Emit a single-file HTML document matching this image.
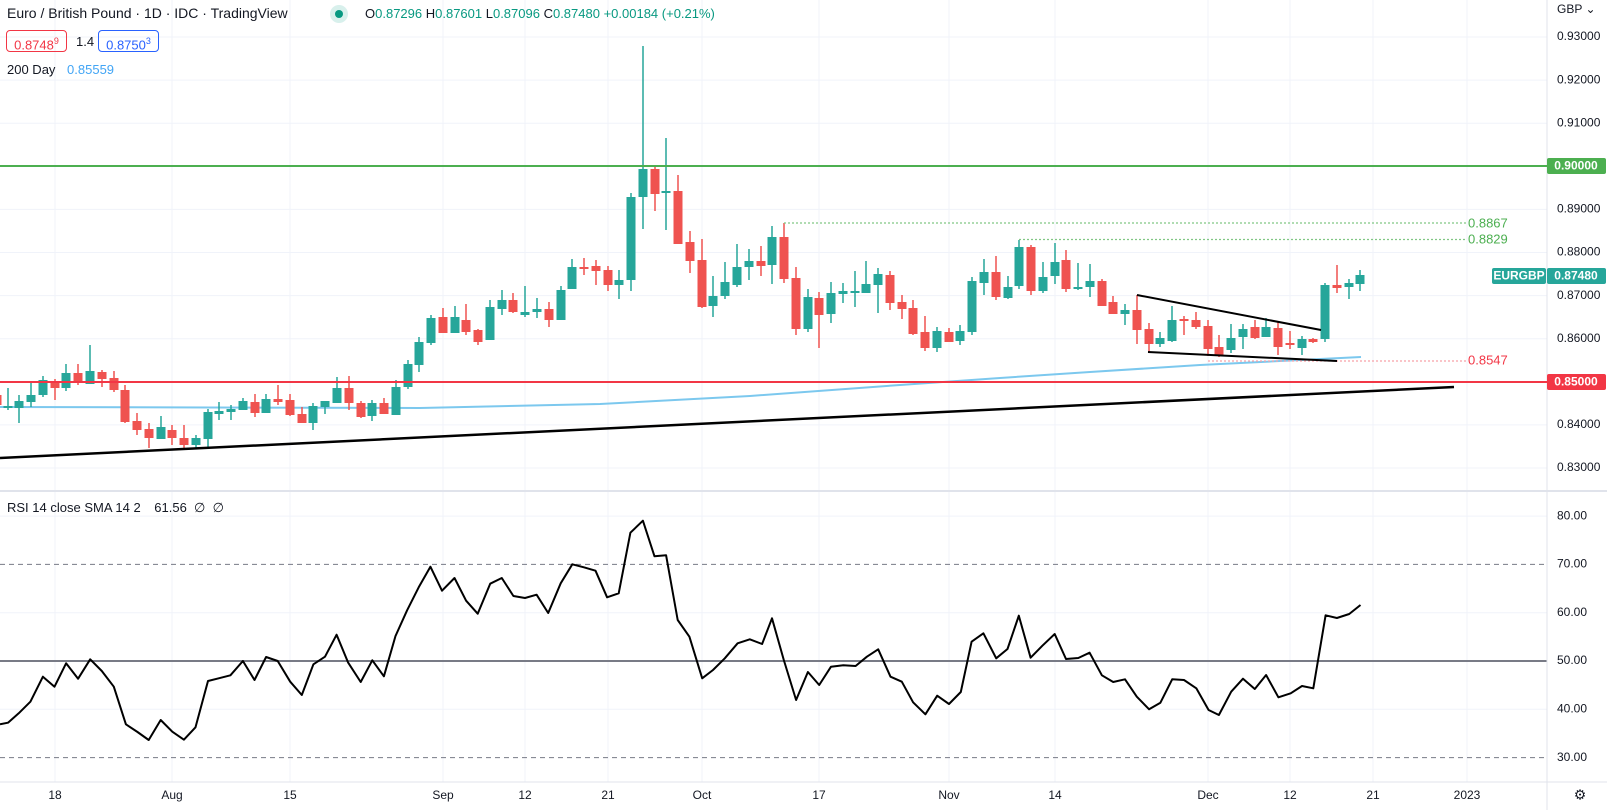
<!DOCTYPE html>
<html><head><meta charset="utf-8">
<style>
html,body{margin:0;padding:0;background:#fff;}
body{width:1607px;height:810px;overflow:hidden;position:relative;font-family:"Liberation Sans",sans-serif;color:#131722;}
svg{position:absolute;left:0;top:0;}
.hdr{position:absolute;white-space:nowrap;}
</style></head><body>
<svg id="s" width="1607" height="810" xmlns="http://www.w3.org/2000/svg" font-family="Liberation Sans, sans-serif"></svg>
<div class="hdr" style="left:7px;top:5px;font-size:14px;">Euro / British Pound · 1D · IDC · TradingView</div>
<div class="hdr" style="left:330px;top:5px;width:18px;height:18px;border-radius:9px;background:#d8f0ec;"></div>
<div class="hdr" style="left:335px;top:10px;width:8px;height:8px;border-radius:4px;background:#089981;"></div>
<div class="hdr" style="left:365px;top:6px;font-size:13px;color:#089981;"><span style="color:#131722">O</span>0.87296 <span style="color:#131722">H</span>0.87601 <span style="color:#131722">L</span>0.87096 <span style="color:#131722">C</span>0.87480 +0.00184 (+0.21%)</div>
<div class="hdr" style="left:6px;top:30px;width:59px;height:20px;border:1px solid #f23645;border-radius:4px;color:#f23645;font-size:13px;line-height:20px;text-align:center;">0.8748<sup style="font-size:9px">9</sup></div>
<div class="hdr" style="left:76px;top:34px;font-size:13px;">1.4</div>
<div class="hdr" style="left:98px;top:30px;width:59px;height:20px;border:1px solid #2962ff;border-radius:4px;color:#2962ff;font-size:13px;line-height:20px;text-align:center;">0.8750<sup style="font-size:9px">3</sup></div>
<div class="hdr" style="left:7px;top:62px;font-size:13px;">200 Day <span style="color:#42a5f5;margin-left:8px">0.85559</span></div>
<div class="hdr" style="left:7px;top:500px;font-size:13px;">RSI 14 close SMA 14 2 <span style="margin-left:10px">61.56 &nbsp;∅ &nbsp;∅</span></div>
<script>
var s=document.getElementById('s'),h='';
function L(x1,y1,x2,y2,c,w,d){h+='<line x1="'+x1+'" y1="'+y1+'" x2="'+x2+'" y2="'+y2+'" stroke="'+c+'" stroke-width="'+w+'"'+(d?' stroke-dasharray="'+d+'"':'')+'/>';}
function T(x,y,t,c,sz,a,fw){h+='<text x="'+x+'" y="'+y+'" fill="'+c+'" font-size="'+sz+'" dominant-baseline="middle"'+(a?' text-anchor="'+a+'"':'')+(fw?' font-weight="'+fw+'"':'')+'>'+t+'</text>';}
function R(x,y,w,hh,c,r){h+='<rect x="'+x+'" y="'+y+'" width="'+w+'" height="'+hh+'" fill="'+c+'"'+(r?' rx="'+r+'"':'')+'/>';}
var G='#f0f3fa';
var vg=[[55,'18'],[172,'Aug'],[290,'15'],[443,'Sep'],[525,'12'],[608,'21'],[702,'Oct'],[819,'17'],[949,'Nov'],[1055,'14'],[1208,'Dec'],[1290,'12'],[1373,'21'],[1467,'2023']];
vg.forEach(function(v){L(v[0],0,v[0],782,G,1);T(v[0],796,v[1],'#131722',12,'middle');});
var pl=['0.93000','0.92000','0.91000','0.90000','0.89000','0.88000','0.87000','0.86000','0.85000','0.84000','0.83000'];
for(var i=0;i<11;i++){var y=37+i*43.1;L(0,y,1547,y,G,1);T(1557,y,pl[i],'#131722',12);}
function ry(v){return 661-(v-50)*4.83;}
[80,60,40].forEach(function(v){L(0,ry(v),1547,ry(v),G,1);});
[80,70,60,50,40,30].forEach(function(v){T(1557,ry(v),v+'.00','#131722',12);});
L(0,ry(70),1547,ry(70),'#787b86',1,'5,4');L(0,ry(30),1547,ry(30),'#787b86',1,'5,4');
L(0,ry(50),1547,ry(50),'#787b86',2);
L(1547,0,1547,810,'#e0e3eb',1);L(0,491,1607,491,'#e0e3eb',2);L(0,782,1607,782,'#e0e3eb',1);
T(1557,10,'GBP ⌄','#131722',12);
T(1580,796,'⚙','#131722',14,'middle');
h+='<polyline fill="none" stroke="#7cc8ee" stroke-width="2" points="0,407 420,408 600,404 750,396 900,385 1000,378 1090,372 1200,365 1361,357"/>';
var C=[[-3,'r',395,405,392,408],[8,'g',406,408,388,410],[19,'g',401,408,395,423],[31,'g',395,402,382,407],[43,'g',380,395,376,397],[55,'r',382,388,379,400],[66,'g',373,388,364,391],[78,'r',373,383,364,385],[90,'g',371,384,345,384],[102,'r',372,379,370,387],[114,'r',378,390,371,392],[125,'r',390,422,385,423],[137,'r',421,430,413,435],[149,'r',429,438,423,448],[161,'g',427,439,416,439],[172,'r',430,438,425,445],[184,'r',438,445,425,450],[196,'g',438,445,435,449],[208,'g',412,439,409,448],[219,'g',411,414,402,420],[231,'g',409,412,405,420],[243,'g',401,410,398,410],[255,'r',402,413,394,417],[266,'g',399,413,394,413],[278,'r',399,402,385,405],[290,'r',400,415,394,416],[302,'r',414,423,407,423],[313,'g',406,423,403,430],[325,'g',401,407,401,414],[337,'g',388,403,377,403],[349,'r',388,403,376,410],[361,'r',403,417,401,418],[372,'g',403,416,400,421],[384,'r',403,414,398,414],[396,'g',387,415,380,415],[408,'g',364,387,360,389],[419,'g',342,365,337,372],
[431,'g',318,343,315,345],[443,'r',317,333,308,333],[455,'g',317,333,306,333],[466,'r',320,332,304,335],[478,'r',330,342,329,345],[490,'g',307,340,300,340],[502,'g',300,309,290,315],[513,'r',300,312,293,313],[525,'g',312,315,286,317],[537,'g',309,312,298,318],[549,'r',309,320,302,327],[561,'g',290,320,286,320],[572,'g',267,289,259,289],[584,'r',267,269,258,275],[596,'r',266,271,260,285],[608,'r',270,285,266,291],[619,'g',280,285,270,299],[631,'g',197,280,193,291],[643,'g',169,197,46,229],[655,'r',169,194,165,211],[666,'g',191,193,138,230],[678,'r',191,244,175,244],[690,'r',242,261,231,273],[702,'r',260,307,239,308],[713,'g',296,306,276,317],[725,'g',282,296,262,299],[737,'g',267,285,244,287],[749,'g',261,267,249,280],[761,'r',261,266,246,276],[772,'g',237,265,226,284],[784,'r',237,279,223,283],[796,'r',278,329,267,335],[808,'g',297,329,289,332],[819,'r',298,315,292,348],[831,'g',293,314,282,323],[843,'g',291,294,283,303],[855,'g',291,293,271,307],[866,'g',284,293,261,293],[878,'g',274,285,268,313],[890,'r',275,303,271,310],[902,'r',302,309,295,319],[913,'r',308,334,300,335],[925,'r',332,348,316,351],[937,'g',331,348,327,352],[949,'r',332,342,328,342],[960,'g',331,341,325,345],[972,'g',281,332,277,335],[984,'g',272,283,259,295],[996,'r',272,297,256,300],[1008,'g',287,298,276,299],[1019,'g',247,286,240,289],[1031,'r',247,291,245,295],[1043,'g',277,291,262,293],[1055,'g',262,276,243,284],[1066,'r',260,289,250,292],[1078,'g',287,289,263,290],[1090,'g',281,287,264,297],[1102,'r',281,306,279,306],[1113,'r',302,314,296,314],[1125,'g',310,314,304,325],[1137,'r',310,330,295,344],[1149,'r',329,344,323,353],[1160,'g',338,344,332,347],[1172,'g',320,341,306,342],[1184,'r',319,321,316,335],[1196,'r',320,327,312,329],[1208,'r',326,349,320,356],[1219,'r',347,355,335,357],[1231,'g',338,350,324,353],[1243,'g',329,337,324,349],[1255,'r',327,338,320,339],[1266,'g',327,337,318,337],[1278,'r',328,347,322,355],[1290,'r',343,345,331,349],[1302,'g',339,348,336,355],[1313,'r',339,342,338,343],[1325,'g',285,339,283,342],[1337,'r',285,288,265,293],[1349,'g',283,287,279,299],[1360,'g',275,284,270,291]];
C.forEach(function(c){var col=c[1]=='g'?'#26a69a':'#ef5350';R(c[0]-0.75,c[4],1.5,c[5]-c[4],col);R(c[0]-4.5,c[2],9,Math.max(2,c[3]-c[2]),col);});
L(0,166,1547,166,'#4caf50',2);L(0,382,1547,382,'#f23645',2);
L(784,223,1466,223,'#81c784',1.2,'2,2');L(1019,239.5,1466,239.5,'#81c784',1.2,'2,2');L(1208,361,1466,361,'#f7a1a8',1.2,'2,2');
T(1468,224,'0.8867','#4caf50',13);T(1468,240,'0.8829','#4caf50',13);T(1468,361,'0.8547','#f23645',13);
L(0,458,1454,387,'#000',2.5);L(1137,295,1321,330,'#000',2);L(1148,352,1337,361,'#000',2);
R(1547,158,59,16,'#4caf50',2);T(1576,166.5,'0.90000','#fff',12,'middle','bold');
R(1547,374,59,16,'#f23645',2);T(1576,382.5,'0.85000','#fff',12,'middle','bold');
R(1492,268,54,16,'#26a69a',2);T(1519,276.5,'EURGBP','#fff',12,'middle','bold');
R(1547,268,59,16,'#26a69a',2);T(1576,276.5,'0.87480','#fff',12,'middle','bold');
var A=[[0,733],[18,728],[42,700],[68,665],[96,590],[122,620],[148,550],[175,596],[202,538],[228,573],[255,620],[282,733],[308,756],[333,780],[360,720],[386,755],[412,779],[438,742],[466,603],[490,595],[516,586],[544,543],[570,600],[596,531],[622,543],[650,605],[676,645],[702,553],[728,530],[754,464],[780,548],[808,606],[834,541],[860,589],[886,468],[912,391],[938,322],[964,260],[990,332],[1018,294],[1044,362],[1070,401],[1098,311],[1124,294],[1150,348],[1176,354],[1202,344],[1228,399],[1256,310],[1282,253],[1308,262],[1334,272],[1360,352],[1386,340],[1412,158],[1440,122],[1466,229],[1492,226],[1518,420]];
var B=[[20,470],[47,595],[70,570],[95,535],[122,490],[148,478],[174,492],[195,415],[220,540],[246,660],[271,576],[295,615],[320,560],[346,556],[372,558],[396,530],[420,508],[446,590],[470,605],[494,667],[520,703],[545,647],[570,672],[595,636],[618,485],[643,460],[670,535],[694,507],[718,407],[743,533],[768,497],[794,462],[818,537],[844,534],[868,518],[894,586],[918,606],[943,598],[968,650],[994,688],[1018,668],[1043,598],[1068,600],[1094,625],[1120,690],[1142,705],[1168,635],[1193,596],[1218,627],[1242,585],[1268,652],[1294,640],[1318,618],[1342,625],[1368,406],[1392,414],[1418,402],[1442,375]];
var p=[];A.forEach(function(a){p.push((a[0]/2.24).toFixed(1)+','+(a[1]/3+480).toFixed(1));});
B.forEach(function(a){p.push((a[0]/2.119+680).toFixed(1)+','+(a[1]/3+480).toFixed(1));});
h+='<polyline fill="none" stroke="#000" stroke-width="2" stroke-linejoin="round" points="'+p.join(' ')+'"/>';
s.innerHTML=h;
</script>
</body></html>
